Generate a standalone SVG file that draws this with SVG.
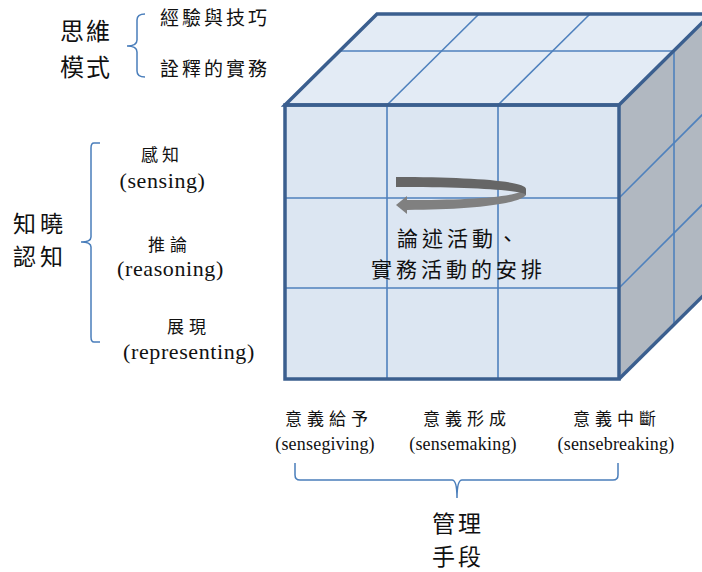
<svg xmlns="http://www.w3.org/2000/svg" width="702" height="572" viewBox="0 0 702 572">
<style>
.cjk{font-family:"Noto Sans CJK TC","Noto Sans CJK SC",sans-serif;fill:#111}
.lat{font-family:"Liberation Serif",serif;fill:#111}
.brace{fill:none;stroke:#4A7EBB;stroke-width:1.5}
.edge{fill:none;stroke:#3B5F8F;stroke-width:3.5;stroke-linejoin:miter}
.grid{fill:none;stroke:#4F81BD;stroke-width:1.6}
</style>
<g id="cube">
<polygon points="285,105 377,14 711,14 619,105" fill="#E3EBF5"/>
<polygon points="619,105 711,14 711,288 619,379" fill="#B1B8C1"/>
<rect x="285" y="105" width="334" height="274" fill="#DCE6F2"/>
<g class="grid">
<line x1="340" y1="51" x2="674" y2="51"/>
<line x1="387" y1="105" x2="479" y2="14"/>
<line x1="498" y1="105" x2="590" y2="14"/>
<line x1="674" y1="51" x2="674" y2="324"/>
<line x1="619" y1="198" x2="711" y2="106"/>
<line x1="619" y1="288" x2="711" y2="196"/>
<line x1="387" y1="105" x2="387" y2="379"/>
<line x1="498" y1="105" x2="498" y2="379"/>
<line x1="285" y1="198" x2="619" y2="198"/>
<line x1="285" y1="288" x2="619" y2="288"/>
</g>
<g class="edge">
<polygon points="285,105 377,14 711,14 619,105"/>
<rect x="285" y="105" width="334" height="274"/>
<line x1="619" y1="379" x2="711" y2="288"/>
</g>
</g>
<g id="rotation-arrow">
<path d="M407,200 C470,200 518,197 526,189 L526,195 C520,204 470,210 407,210 Z" fill="#808080"/>
<polygon points="396,205 407,196 407,214" fill="#808080"/>
<path d="M396,177 C470,177 526,181 526,189 L526,195 C524,190 470,187 396,187 Z" fill="#666666"/>
</g>
<g id="center-label">
<text class="cjk" x="397" y="246" font-size="21" letter-spacing="4">論述活動、</text>
<text class="cjk" x="371" y="277" font-size="21" letter-spacing="4">實務活動的安排</text>
</g>
<g id="thinking-mode">
<text class="cjk" x="60" y="40" font-size="24" letter-spacing="2">思維</text>
<text class="cjk" x="60" y="76" font-size="24" letter-spacing="2">模式</text>
<path class="brace" d="M145,14 Q137,14 137,20 L137,40 Q137,46 127,46 Q137,46 137,52 L137,71 Q137,77 145,77"/>
<text class="cjk" x="160" y="25" font-size="19" letter-spacing="3">經驗與技巧</text>
<text class="cjk" x="160" y="76" font-size="19" letter-spacing="3">詮釋的實務</text>
</g>
<g id="cognition">
<text class="cjk" x="13" y="232" font-size="23" letter-spacing="4">知曉</text>
<text class="cjk" x="13" y="265" font-size="23" letter-spacing="4">認知</text>
<path class="brace" d="M100,143 L94,143 Q91,143 91,148 L91,237 Q91,242 81,242 Q91,242 91,247 L91,337 Q91,342 94,342 L100,342"/>
<text class="cjk" x="141" y="161" font-size="17" letter-spacing="4">感知</text>
<text class="lat" x="162.5" y="188" font-size="22" text-anchor="middle" letter-spacing="0.6">(sensing)</text>
<text class="cjk" x="148" y="251" font-size="17" letter-spacing="5">推論</text>
<text class="lat" x="170.5" y="276" font-size="22" text-anchor="middle" letter-spacing="0.6">(reasoning)</text>
<text class="cjk" x="167" y="333" font-size="17" letter-spacing="5">展現</text>
<text class="lat" x="189" y="359" font-size="22" text-anchor="middle" letter-spacing="0.6">(representing)</text>
</g>
<g id="management">
<text class="cjk" x="285" y="425" font-size="17" letter-spacing="5">意義給予</text>
<text class="lat" x="325" y="450" font-size="18" text-anchor="middle" letter-spacing="0.2">(sensegiving)</text>
<text class="cjk" x="423" y="425" font-size="17" letter-spacing="5">意義形成</text>
<text class="lat" x="463" y="450" font-size="18" text-anchor="middle" letter-spacing="0.2">(sensemaking)</text>
<text class="cjk" x="573" y="425" font-size="17" letter-spacing="5">意義中斷</text>
<text class="lat" x="616" y="450" font-size="18" text-anchor="middle" letter-spacing="0.2">(sensebreaking)</text>
<path class="brace" d="M295,463 L295,475 Q295,480 300,480 L452,480 Q457,480 457,498 Q457,480 462,480 L613,480 Q618,480 618,475 L618,463"/>
<text class="cjk" x="432" y="532" font-size="23" letter-spacing="3">管理</text>
<text class="cjk" x="432" y="565" font-size="23" letter-spacing="3">手段</text>
</g>
</svg>
